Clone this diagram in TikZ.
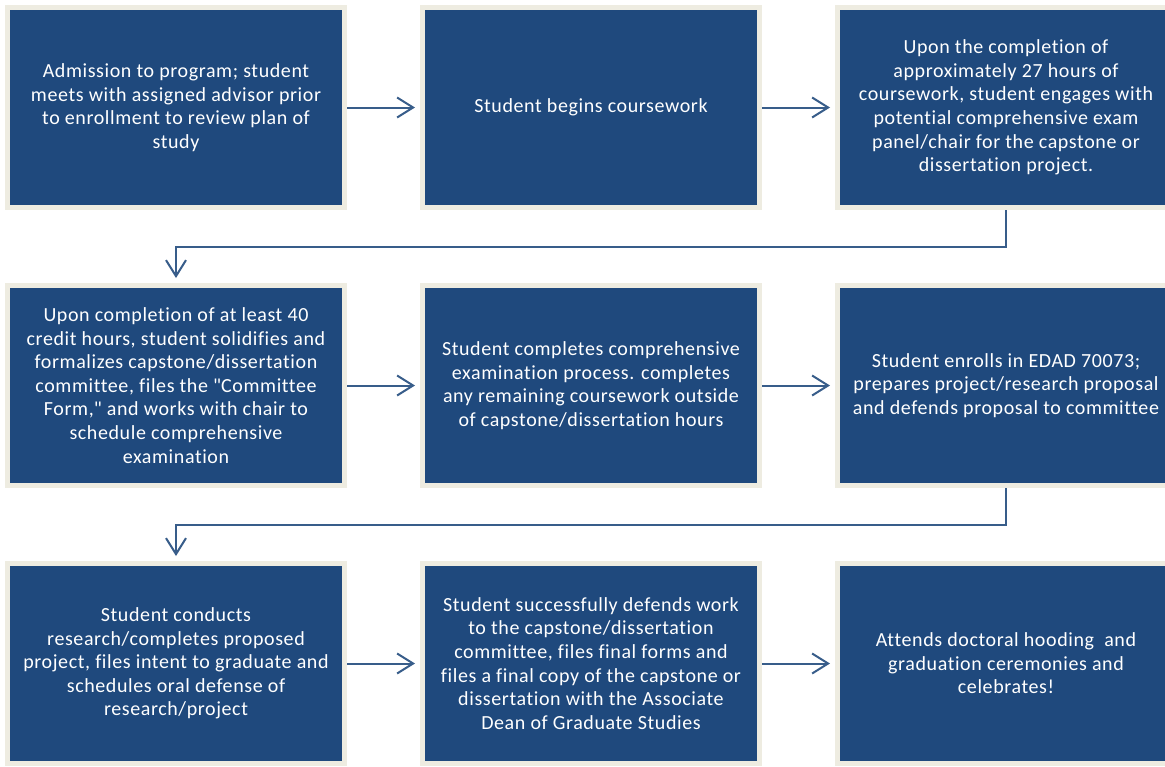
\documentclass[tikz,border=0pt]{standalone}
\usepackage{fontspec}
\setmainfont{Carlito}[Ligatures={NoCommon}, LetterSpace=3]
\usetikzlibrary{arrows.meta}
\definecolor{boxblue}{HTML}{1F497D}
\definecolor{boxrim}{HTML}{EEECE1}
\definecolor{arrowblue}{HTML}{385D8A}
\tikzset{
  stepbox/.style={fill=boxblue, draw=boxrim, line width=5pt, minimum width=337pt, minimum height=200pt,
    inner sep=0pt, outer sep=2.5pt, align=center, text=white, font=\fontsize{20pt}{23.6pt}\selectfont},
  flow/.style={draw=arrowblue, line width=2pt, -{Straight Barb[length=16pt,width=20pt,line width=2pt]}, shorten >=5pt},
}
\begin{document}
\begin{tikzpicture}[x=1pt,y=-1pt]
\useasboundingbox[fill=white] (0,0) rectangle (1165,766);
\node[stepbox] (b1) at (176,107.5) {Admission to program; student\\meets with assigned advisor prior\\to enrollment to review plan of\\study};
\node[stepbox] (b2) at (591,107.5) {Student begins coursework};
\node[stepbox] (b3) at (1006,107.5) {Upon the completion of\\approximately 27 hours of\\coursework, student engages with\\potential comprehensive exam\\panel/chair for the capstone or\\dissertation project.};
\node[stepbox] (b4) at (176,385.5) {Upon completion of at least 40\\credit hours, student solidifies and\\formalizes capstone/dissertation\\committee, files the \textquotedbl Committee\\Form,\textquotedbl\ and works with chair to\\schedule comprehensive\\examination};
\node[stepbox] (b5) at (591,385.5) {Student completes comprehensive\\examination process. completes\\any remaining coursework outside\\of capstone/dissertation hours};
\node[stepbox] (b6) at (1006,385.5) {Student enrolls in EDAD 70073;\\prepares project/research proposal\\and defends proposal to committee};
\node[stepbox] (b7) at (176,663.5) {Student conducts\\research/completes proposed\\project, files intent to graduate and\\schedules oral defense of\\research/project};
\node[stepbox] (b8) at (591,663.5) {Student successfully defends work\\to the capstone/dissertation\\committee, files final forms and\\files a final copy of the capstone or\\dissertation with the Associate\\Dean of Graduate Studies};
\node[stepbox] (b9) at (1006,663.5) {Attends doctoral hooding\ \ and\\graduation ceremonies and\\celebrates!};
\draw[flow] (b1) -- (b2);
\draw[flow] (b2) -- (b3);
\draw[flow] (b4) -- (b5);
\draw[flow] (b5) -- (b6);
\draw[flow] (b7) -- (b8);
\draw[flow] (b8) -- (b9);
\draw[flow] (b3.south) -- ++(0,36.5) -| (b4.north);
\draw[flow] (b6.south) -- ++(0,36.5) -| (b7.north);
\end{tikzpicture}
\end{document}
